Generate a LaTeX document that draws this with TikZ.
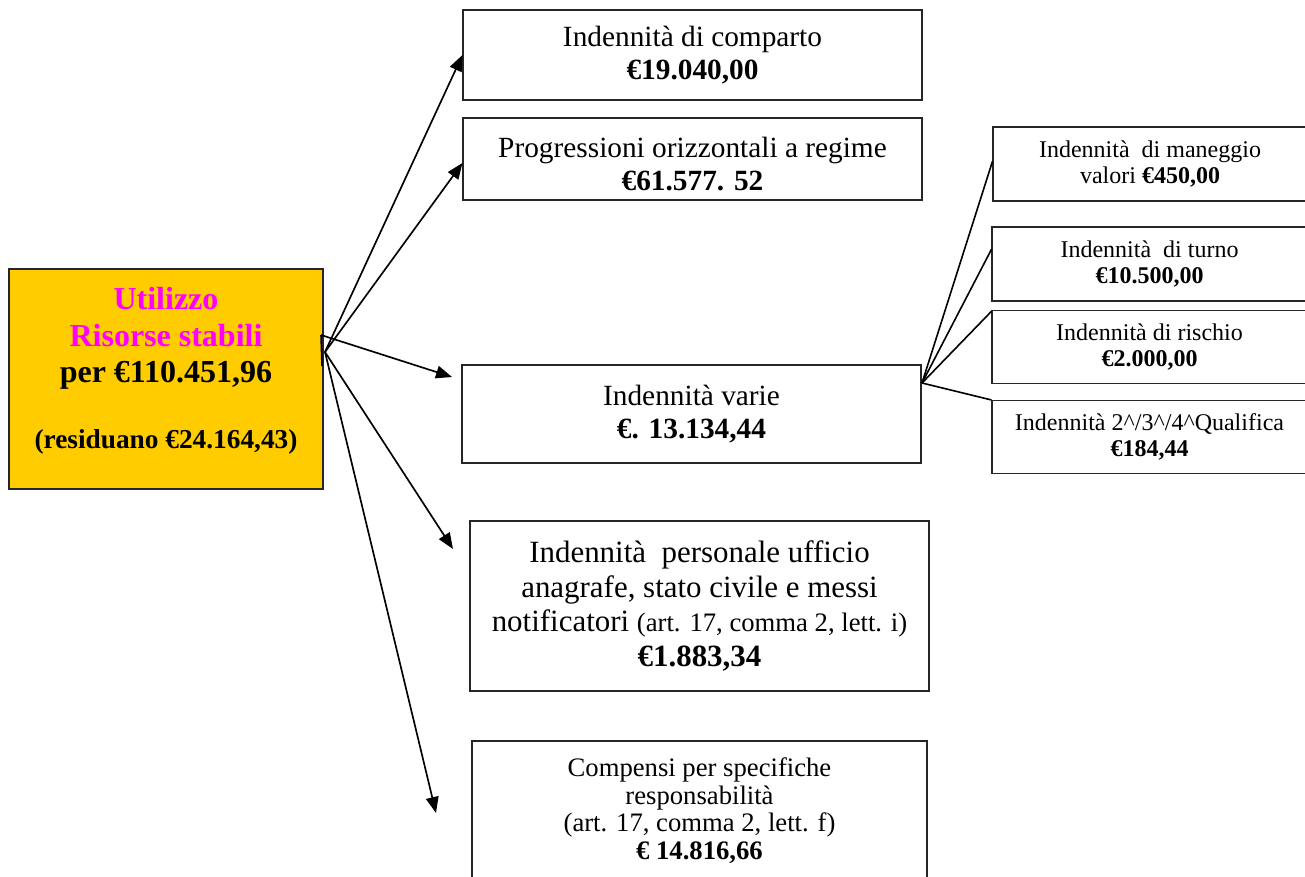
\documentclass[tikz,border=0pt]{standalone}
\usepackage{fontspec}
\setmainfont{Liberation Serif}
\usetikzlibrary{arrows.meta}
\definecolor{gold}{HTML}{FFCC00}
\definecolor{mag}{HTML}{FF00FF}
\tikzset{
  box/.style={draw=black!85, line width=0.8pt, inner sep=0pt, align=center, anchor=center},
  arr/.style={line width=1.25pt, -{Triangle[length=12pt,width=9.5pt]}},
  sub/.style={line width=1.2pt},
  fmid/.style={font=\fontsize{22}{24.75}\selectfont},
  fsmall/.style={font=\fontsize{18}{19.8}\selectfont},
  plain/.style={inner sep=0pt, align=center},
}
\begin{document}
\begin{tikzpicture}[x=0.75pt,y=-0.75pt]
\useasboundingbox (0,0) rectangle (1305,877);
% main box
\node[box, fill=gold, minimum width=235.5pt, minimum height=165pt] (main) at (166,379) {};
\node[plain, font=\fontsize{24}{27.5}\selectfont\bfseries] (maintext) at (166,371)
  {\textcolor{mag}{Utilizzo}\\
   \textcolor{mag}{Risorse stabili}\\
   per €110.451,96\\[22pt]
   {\fontsize{20.5}{22}\selectfont (residuano €24.164,43)}};
% level-1 boxes
\node[box, fmid, minimum width=344.25pt, minimum height=67.5pt] (comparto) at (692.5,55)
  {Indennità di comparto\\ \textbf{€19.040,00}};
\node[box, minimum width=344.25pt, minimum height=61.5pt] (progr) at (692.5,159) {};
\node[plain, fmid] (progrtext) at (692.5,164)
  {Progressioni orizzontali a regime\\ \textbf{€61.577. 52}};
\node[box, fmid, minimum width=344.25pt, minimum height=73.5pt] (varie) at (691.5,414)
  {Indennità varie\\ \textbf{€. 13.134,44}};
\node[box, minimum width=344.25pt, minimum height=127.5pt, font=\fontsize{23.2}{26}\selectfont] (pers) at (699.5,606)
  {Indennità\ \ personale ufficio\\ anagrafe, stato civile e messi\\
   notificatori {\fontsize{20}{26}\selectfont(art. 17, comma 2, lett. i)}\\ \textbf{€1.883,34}};
\node[box, minimum width=341.25pt, minimum height=104.25pt, font=\fontsize{20}{20.6}\selectfont] (comp) at (699.5,810.5)
  {Compensi per specifiche\\ responsabilità\\ (art. 17, comma 2, lett. f)\\ \textbf{€ 14.816,66}};
% level-2 boxes
\node[box, fsmall, minimum width=235.5pt, minimum height=55.5pt] (maneggio) at (1150,164)
  {Indennità\ \ di maneggio\\ valori \textbf{€450,00}};
\node[box, fsmall, minimum width=236.25pt, minimum height=55.5pt] (turno) at (1149.5,264)
  {Indennità\ \ di turno\\ \textbf{€10.500,00}};
\node[box, fsmall, minimum width=236.25pt, minimum height=54.75pt] (rischio) at (1149.5,347)
  {Indennità di rischio\\ \textbf{€2.000,00}};
\node[box, fsmall, minimum width=236.25pt, minimum height=54.75pt] (qual) at (1149.5,437)
  {Indennità 2\^{}/3\^{}/4\^{}Qualifica\\ \textbf{€184,44}};
% hubs and free ends
\coordinate (hub) at (325,352);
\coordinate (hubv) at (321,335);
\coordinate (hubw) at (322,366);
\coordinate (tv) at (452,377);
\coordinate (tp) at (453,549);
\coordinate (tc) at (436,813);
\coordinate (shub) at (922,383);
% arrows
\draw[arr] (hub) -- (comparto.west);
\draw[arr] (hub) -- ([yshift=-3pt]progr.west);
\draw[arr] (hubv) -- (tv);
\draw[arr] (hub) -- (tp);
\draw[arr] (hub) -- (tc);
\draw[sub] (hubv) -- (hubw);
% sub lines
\draw[sub] (shub) -- ([yshift=2pt]maneggio.west);
\draw[sub] (shub) -- ([yshift=11pt]turno.west);
\draw[sub] (shub) -- ([yshift=-1pt]rischio.north west);
\draw[sub] (shub) -- (qual.north west);
\end{tikzpicture}
\end{document}
